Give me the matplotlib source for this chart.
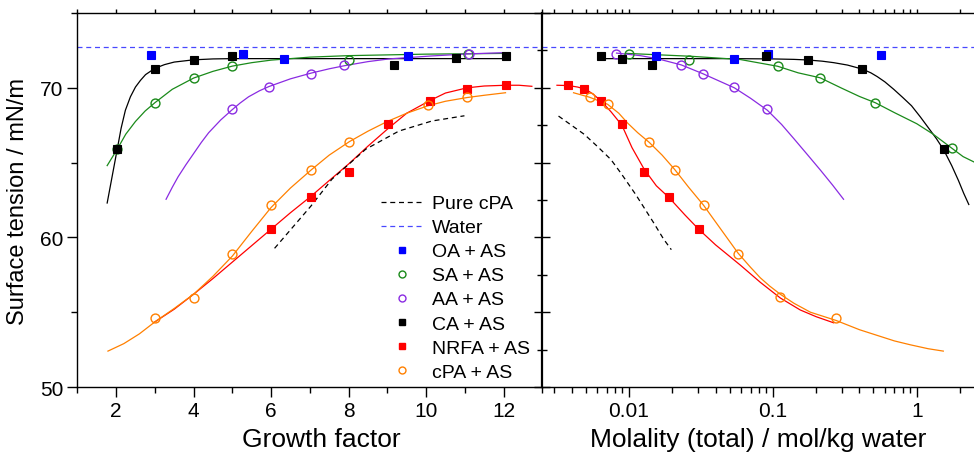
import numpy as np
import matplotlib.pyplot as plt
from matplotlib.lines import Line2D
from matplotlib.ticker import MultipleLocator, LogLocator, NullFormatter, FixedLocator, FixedFormatter

plt.rcParams['font.family'] = ['Liberation Sans', 'DejaVu Sans']

# --- measured points: growth factor panel ---
oa_gf = [2.90, 5.27, 6.33, 9.53]
oa_st = [72.17, 72.29, 71.95, 72.13]
sa_gf = [2.03, 3.0, 4.0, 5.0, 8.02, 11.08]
sa_st = [65.9, 69.0, 70.67, 71.44, 71.89, 72.27]
aa_gf = [4.98, 5.94, 7.03, 7.88, 11.12]
aa_st = [68.55, 70.07, 70.95, 71.53, 72.29]
ca_gf = [2.03, 3.0, 4.0, 5.0, 9.16, 10.77, 12.05]
ca_st = [65.89, 71.29, 71.89, 72.11, 71.53, 72.0, 72.13]
nrfa_gf = [6.0, 7.03, 8.02, 9.03, 10.1, 11.06, 12.05]
nrfa_st = [60.55, 62.67, 64.37, 67.55, 69.11, 69.93, 70.17]
cpa_gf = [3.0, 4.0, 5.0, 6.0, 7.03, 8.02, 10.05, 11.06]
cpa_st = [54.62, 55.97, 58.91, 62.18, 64.53, 66.4, 68.82, 69.37]

# fitted curves, growth factor panel
ca_fit_gf = [1.77, 1.9, 2.03, 2.13, 2.24, 2.37, 2.5, 2.63, 2.76, 3.0, 3.25, 3.5, 4.0, 4.5, 5.0, 12.05]
ca_fit_st = [62.3, 64.1, 65.9, 67.3, 68.5, 69.4, 70.05, 70.5, 70.88, 71.3, 71.55, 71.72, 71.87, 71.93, 71.95, 71.95]
sa_fit_gf = [1.77, 2.03, 2.25, 2.5, 2.75, 3.0, 3.45, 4.0, 4.5, 5.0, 5.5, 6.0, 7.0, 8.0, 10.0, 12.05]
sa_fit_st = [64.8, 65.9, 66.9, 67.75, 68.45, 69.0, 69.9, 70.65, 71.1, 71.45, 71.68, 71.85, 72.05, 72.15, 72.25, 72.3]
aa_fit_gf = [3.29, 3.45, 3.6, 3.8, 3.96, 4.2, 4.39, 4.7, 4.98, 5.2, 5.42, 5.7, 5.94, 6.5,
             7.03, 7.5, 7.88, 8.5, 9.04, 10.15, 11.12, 12.05]
aa_fit_st = [62.55, 63.35, 64.05, 64.85, 65.45, 66.35, 67.0, 67.85, 68.5, 68.98, 69.4, 69.8, 70.08, 70.6,
             70.98, 71.27, 71.47, 71.75, 71.93, 72.13, 72.27, 72.35]
nrfa_fit_gf = [2.97, 3.5, 4.0, 4.5, 5.0, 5.5, 6.0, 6.5, 7.03, 7.5, 8.02, 8.5, 9.03, 9.5,
               10.1, 10.5, 11.06, 11.5, 12.05, 12.4, 12.73]
nrfa_fit_st = [54.3, 55.2, 56.2, 57.25, 58.35, 59.45, 60.55, 61.65, 62.75, 63.8, 64.95, 66.1, 67.3, 68.3,
               69.15, 69.65, 70.0, 70.12, 70.17, 70.17, 70.1]
cpa_fit_gf = [1.79, 2.2, 2.6, 3.0, 3.5, 4.0, 4.5, 5.0, 5.5, 6.0, 6.5, 7.03, 7.5, 8.02, 8.5,
              9.0, 9.5, 10.05, 10.5, 11.06, 11.5, 12.05]
cpa_fit_st = [52.4, 52.9, 53.55, 54.35, 55.25, 56.2, 57.4, 58.75, 60.4, 62.0, 63.3, 64.5, 65.5, 66.4, 67.1,
              67.75, 68.3, 68.8, 69.1, 69.35, 69.5, 69.67]
pure_gf = [6.09, 7.03, 7.57, 8.44, 9.3, 10.15, 10.99]
pure_gf_st = [59.27, 62.1, 63.89, 65.89, 67.11, 67.78, 68.13]

# --- measured points: molality panel ---
oa_m = [0.0155, 0.0533, 0.0926, 0.56]
oa_m_st = [72.11, 71.95, 72.29, 72.17]
sa_m = [0.01005, 0.0262, 0.108, 0.213, 0.516, 1.76]
sa_m_st = [72.27, 71.87, 71.44, 70.67, 69.0, 65.95]
aa_m = [0.00817, 0.0231, 0.0325, 0.054, 0.0916]
aa_m_st = [72.29, 71.53, 70.93, 70.07, 68.55]
ca_m = [0.00638, 0.00893, 0.01452, 0.0901, 0.1745, 0.419, 1.54]
ca_m_st = [72.11, 71.95, 71.53, 72.11, 71.89, 71.29, 65.89]
nrfa_m = [0.0038, 0.00489, 0.00641, 0.00893, 0.01277, 0.01905, 0.0305]
nrfa_m_st = [70.17, 69.93, 69.11, 67.55, 64.37, 62.71, 60.55]
cpa_m = [0.00532, 0.0071, 0.01384, 0.02075, 0.033, 0.0573, 0.1127, 0.2748]
cpa_m_st = [69.37, 68.93, 66.4, 64.53, 62.17, 58.91, 56.0, 54.62]

# fitted curves, molality panel
ca_fit_m = [0.0064, 0.05, 0.1, 0.14, 0.1745, 0.22, 0.265, 0.33, 0.419, 0.48, 0.531, 0.6, 0.692,
            0.8, 0.92, 1.06, 1.2, 1.37, 1.54, 1.75, 1.95, 2.12, 2.3]
ca_fit_m_st = [71.95, 71.95, 71.93, 71.9, 71.86, 71.78, 71.68, 71.52, 71.25, 71.0, 70.75, 70.4, 69.9,
               69.35, 68.8, 68.05, 67.35, 66.6, 65.85, 64.8, 63.8, 62.95, 62.2]
sa_fit_m = [0.0096, 0.0267, 0.0594, 0.108, 0.15, 0.213, 0.3, 0.4, 0.516, 0.7, 1.0, 1.3, 1.76, 2.1, 2.49]
sa_fit_m_st = [72.3, 72.11, 71.89, 71.44, 71.0, 70.67, 69.98, 69.42, 69.0, 68.34, 67.6, 66.9, 65.95, 65.4, 65.05]
aa_fit_m = [0.0082, 0.012, 0.016, 0.0231, 0.0325, 0.054, 0.07, 0.0916, 0.115, 0.14, 0.175, 0.214, 0.26, 0.31]
aa_fit_m_st = [72.32, 72.15, 71.93, 71.53, 70.95, 70.0, 69.3, 68.5, 67.55, 66.6, 65.5, 64.5, 63.5, 62.55]
nrfa_fit_m = [0.00316, 0.0038, 0.0044, 0.00489, 0.0053, 0.00568, 0.00641, 0.0075, 0.00893, 0.0105,
              0.01277, 0.0155, 0.01905, 0.0245, 0.0305, 0.04, 0.0594, 0.0818, 0.1127, 0.155, 0.2, 0.265]
nrfa_fit_m_st = [70.17, 70.15, 70.05, 69.93, 69.75, 69.55, 69.11, 68.4, 67.5, 66.0,
                 64.55, 63.45, 62.65, 61.5, 60.55, 59.5, 58.15, 57.0, 55.95, 55.15, 54.7, 54.29]
cpa_fit_m = [0.00412, 0.00532, 0.0071, 0.0085, 0.00977, 0.0115, 0.01384, 0.017, 0.02075, 0.026,
             0.033, 0.042, 0.0573, 0.07, 0.0818, 0.095, 0.1127, 0.14, 0.1824, 0.2748,
             0.4, 0.531, 0.7, 0.904, 1.2, 1.53]
cpa_fit_m_st = [69.67, 69.37, 68.9, 68.3, 67.65, 67.0, 66.35, 65.5, 64.55, 63.35,
                62.15, 60.75, 58.95, 58.0, 57.3, 56.75, 56.2, 55.6, 55.0, 54.45,
                53.83, 53.45, 53.08, 52.82, 52.56, 52.4]
pure_m = [0.00324, 0.00489, 0.00605, 0.0075, 0.0088, 0.0111, 0.0148, 0.0174, 0.0197]
pure_m_st = [68.11, 66.89, 66.07, 65.2, 64.29, 62.89, 61.0, 59.89, 59.18]

water_st = 72.75

C_OA = '#0000ff'
C_SA = '#1a8a1a'
C_AA = '#8a2be2'
C_CA = '#000000'
C_NRFA = '#ff0000'
C_CPA = '#ff8000'
C_WATER = '#4848ff'

fig = plt.figure(figsize=(9.74, 4.56), dpi=100)
ax1 = fig.add_axes([0.0794, 0.1491, 0.4774, 0.8202])
ax2 = fig.add_axes([0.5568, 0.1491, 0.4432, 0.8202])

lw = 0.9
ms_sq = 5.8
ms_ci = 6.4
dash = (0, (4, 3))

def draw_panel(ax, fits, pts, pure_x, pure_y):
    for x, y, c in fits:
        ax.plot(x, y, color=c, lw=lw, zorder=2)
    ax.plot(pure_x, pure_y, color='black', lw=lw, ls=dash, zorder=2)
    ax.axhline(water_st, color=C_WATER, lw=lw, ls=dash, zorder=2)
    for x, y, c, m in pts:
        if m == 's':
            ax.plot(x, y, ls='none', marker='s', ms=ms_sq, mfc=c, mec=c, mew=0.8, zorder=3)
        else:
            ax.plot(x, y, ls='none', marker='o', ms=ms_ci, mfc='none', mec=c, mew=1.0, zorder=3)

draw_panel(ax1,
           [(ca_fit_gf, ca_fit_st, C_CA), (sa_fit_gf, sa_fit_st, C_SA),
            (aa_fit_gf, aa_fit_st, C_AA), (nrfa_fit_gf, nrfa_fit_st, C_NRFA),
            (cpa_fit_gf, cpa_fit_st, C_CPA)],
           [(oa_gf, oa_st, C_OA, 's'), (sa_gf, sa_st, C_SA, 'o'), (aa_gf, aa_st, C_AA, 'o'),
            (ca_gf, ca_st, C_CA, 's'), (nrfa_gf, nrfa_st, C_NRFA, 's'), (cpa_gf, cpa_st, C_CPA, 'o')],
           pure_gf, pure_gf_st)

draw_panel(ax2,
           [(ca_fit_m, ca_fit_m_st, C_CA), (sa_fit_m, sa_fit_m_st, C_SA),
            (aa_fit_m, aa_fit_m_st, C_AA), (nrfa_fit_m, nrfa_fit_m_st, C_NRFA),
            (cpa_fit_m, cpa_fit_m_st, C_CPA)],
           [(oa_m, oa_m_st, C_OA, 's'), (sa_m, sa_m_st, C_SA, 'o'), (aa_m, aa_m_st, C_AA, 'o'),
            (ca_m, ca_m_st, C_CA, 's'), (nrfa_m, nrfa_m_st, C_NRFA, 's'), (cpa_m, cpa_m_st, C_CPA, 'o')],
           pure_m, pure_m_st)

# left panel axes
ax1.set_xlim(1, 13)
ax1.set_ylim(50, 75)
ax1.xaxis.set_major_locator(FixedLocator([2, 4, 6, 8, 10, 12]))
ax1.xaxis.set_minor_locator(MultipleLocator(1))
ax1.yaxis.set_major_locator(MultipleLocator(10))
ax1.yaxis.set_minor_locator(MultipleLocator(5))
ax1.tick_params(axis='both', which='major', direction='out', length=7, width=1.0, labelsize=15, pad=3)
ax1.tick_params(axis='both', which='minor', direction='out', length=4, width=1.0)
ax1.tick_params(axis='x', which='both', top=True, labeltop=False)
for t in ax1.xaxis.get_major_ticks() + ax1.xaxis.get_minor_ticks():
    t.tick2line.set_markersize(3)
ax1.spines['right'].set_visible(False)
ax1.set_xlabel('Growth factor', fontsize=19)
ax1.xaxis.set_label_coords(0.524, -0.108)
ax1.set_ylabel('Surface tension / mN/m', fontsize=17, labelpad=8)

# right panel axes
ax2.set_xscale('log')
ax2.set_xlim(0.0025, 2.5)
ax2.set_ylim(50, 75)
ax2.xaxis.set_major_locator(FixedLocator([0.01, 0.1, 1]))
ax2.xaxis.set_major_formatter(FixedFormatter(['0.01', '0.1', '1']))
ax2.xaxis.set_minor_locator(LogLocator(base=10, subs=np.arange(2, 10), numticks=20))
ax2.xaxis.set_minor_formatter(NullFormatter())
ax2.yaxis.set_major_locator(MultipleLocator(5))
ax2.yaxis.set_minor_locator(MultipleLocator(2.5))
ax2.tick_params(axis='x', which='major', direction='out', length=7, width=1.0, labelsize=15, pad=3, top=True)
ax2.tick_params(axis='x', which='minor', direction='out', length=4, width=1.0, top=True)
for t in ax2.xaxis.get_major_ticks() + ax2.xaxis.get_minor_ticks():
    t.tick2line.set_markersize(3)
ax2.tick_params(axis='y', which='major', direction='inout', length=12, width=1.0, labelleft=False)
ax2.tick_params(axis='y', which='minor', direction='inout', length=7, width=1.0)
ax2.spines['right'].set_visible(False)
ax2.spines['left'].set_linewidth(1.6)
ax2.set_xlabel('Molality (total) / mol/kg water', fontsize=19)
ax2.xaxis.set_label_coords(0.5, -0.108)

for ax in (ax1, ax2):
    for s in ('top', 'bottom', 'left'):
        if not (ax is ax2 and s == 'left'):
            ax.spines[s].set_linewidth(1.0)

handles = [
    Line2D([], [], color='black', lw=lw, ls=dash),
    Line2D([], [], color=C_WATER, lw=lw, ls=dash),
    Line2D([], [], ls='none', marker='s', ms=4.5, mfc=C_OA, mec=C_OA),
    Line2D([], [], ls='none', marker='o', ms=5, mfc='none', mec=C_SA),
    Line2D([], [], ls='none', marker='o', ms=5, mfc='none', mec=C_AA),
    Line2D([], [], ls='none', marker='s', ms=4.5, mfc=C_CA, mec=C_CA),
    Line2D([], [], ls='none', marker='s', ms=4.5, mfc=C_NRFA, mec=C_NRFA),
    Line2D([], [], ls='none', marker='o', ms=5, mfc='none', mec=C_CPA),
]
labels = ['Pure cPA', 'Water', 'OA + AS', 'SA + AS', 'AA + AS', 'CA + AS', 'NRFA + AS', 'cPA + AS']
ax1.legend(handles, labels, loc='upper left', bbox_to_anchor=(0.6525, 0.514),
           frameon=False, fontsize=14, handlelength=2.2, handletextpad=0.45,
           labelspacing=0.33, borderpad=0, borderaxespad=0)

fig.savefig('out.png', dpi=100)
